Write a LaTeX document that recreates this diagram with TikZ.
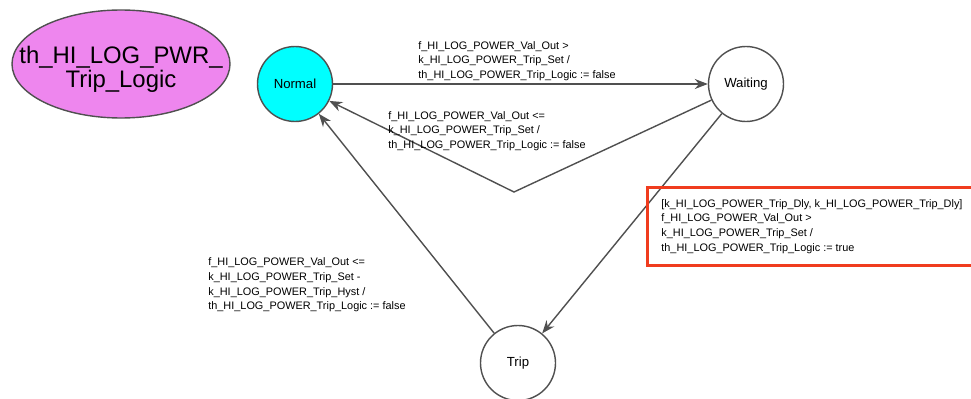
\documentclass[tikz,border=0pt]{standalone}
\usepackage{fontspec}
\setmainfont{Liberation Sans}
\usepackage{xcolor}
\definecolor{mpink}{HTML}{EE86EE}
\definecolor{mcyan}{HTML}{00FFFF}
\definecolor{mred}{HTML}{F03C1E}
\definecolor{mgrey}{HTML}{505050}
\usepackage{tikz}
\usetikzlibrary{arrows.meta}

\begin{document}
\begin{tikzpicture}[
        state/.style={circle, draw=mgrey, thick, minimum size=1.5cm, inner sep=0pt, font=\fontsize{7.5}{9}\selectfont},
        trans/.style={draw=mgrey, thick, -{Stealth[length=2.6mm, width=2mm]}},
        guard/.style={align=left, inner sep=0pt, font=\fontsize{6.2}{8.4}\selectfont}
    ]
            \useasboundingbox (0, 0) rectangle (19.42, 7.96);
            \draw[mgrey, thick, fill=mpink] (2.42, 6.68) ellipse (2.18 and 1.08);
            \node[align=center, inner sep=0pt, font=\fontsize{13.6}{11}\selectfont] (title) at (2.42, 6.58) {th\_HI\_LOG\_PWR\_\\Trip\_Logic};
            \node[state, fill=mcyan] (normal) at (5.90, 6.28) {Normal};
            \node[state] (waiting) at (14.92, 6.28) {Waiting};
            \node[state] (trip) at (10.36, 0.70) {Trip};
            \coordinate (bend) at (10.28, 4.12);
            % transitions
            \draw[trans] (normal) -- (waiting);
            \draw[trans] (waiting) -- (bend) -- (normal);
            \draw[trans] (waiting) -- (trip);
            \draw[trans] (trip) -- (normal);
            % guards / actions
            \node[guard, anchor=west] (g1) at (8.36, 6.74) {f\_HI\_LOG\_POWER\_Val\_Out >\\k\_HI\_LOG\_POWER\_Trip\_Set /\\th\_HI\_LOG\_POWER\_Trip\_Logic := false};
            \node[guard, anchor=west] (g2) at (7.76, 5.34) {f\_HI\_LOG\_POWER\_Val\_Out <=\\k\_HI\_LOG\_POWER\_Trip\_Set /\\th\_HI\_LOG\_POWER\_Trip\_Logic := false};
            \node[guard, anchor=west, draw=mred, line width=1.6pt, inner xsep=0.28cm, inner ysep=0.24cm,
                minimum height=1.54cm] (g3) at (12.92, 3.43)
                {[k\_HI\_LOG\_POWER\_Trip\_Dly, k\_HI\_LOG\_POWER\_Trip\_Dly]\\f\_HI\_LOG\_POWER\_Val\_Out >\\k\_HI\_LOG\_POWER\_Trip\_Set /\\th\_HI\_LOG\_POWER\_Trip\_Logic := true};
            \node[guard, anchor=west] (g4) at (4.16, 2.26) {f\_HI\_LOG\_POWER\_Val\_Out <=\\k\_HI\_LOG\_POWER\_Trip\_Set -\\k\_HI\_LOG\_POWER\_Trip\_Hyst /\\th\_HI\_LOG\_POWER\_Trip\_Logic := false};
        \end{tikzpicture}
\end{document}
